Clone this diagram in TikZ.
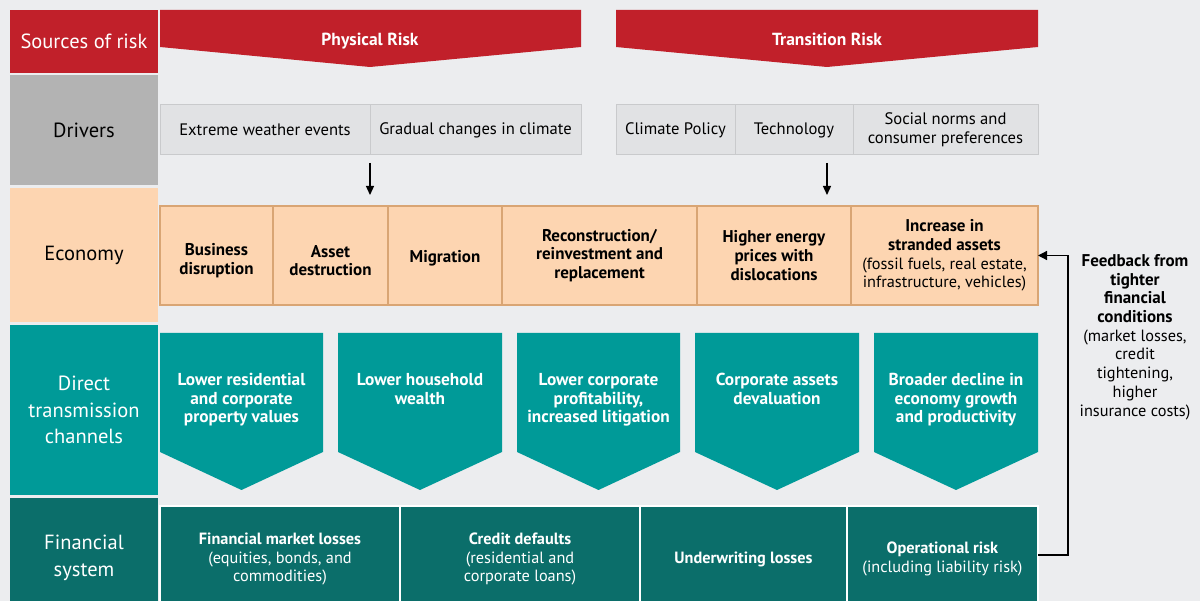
\documentclass[tikz,border=0pt]{standalone}
\usepackage{fontspec}
\setmainfont{PT Sans}
\usetikzlibrary{arrows.meta}
\definecolor{bg}{HTML}{ECEDEF}
\definecolor{riskred}{HTML}{C1202A}
\definecolor{drvgray}{HTML}{B3B3B3}
\definecolor{peach}{HTML}{FDD5B1}
\definecolor{peachline}{HTML}{D9A574}
\definecolor{chteal}{HTML}{009A98}
\definecolor{finteal}{HTML}{0B6E6A}
\definecolor{drvbox}{HTML}{E1E2E4}
\definecolor{drvline}{HTML}{C9CACC}
\newcommand{\smallreg}{\mdseries\fontsize{16.3}{18.7}\selectfont}
\tikzset{
  cell/.style={anchor=north west, inner sep=0pt, outer sep=0pt, align=center},
  leftcell/.style={cell, minimum width=148pt, font=\fontsize{20.5}{26.5}\selectfont},
  drvcell/.style={cell, fill=drvbox, draw=drvline, line width=1pt, minimum height=50pt, font=\fontsize{16.6}{19}\selectfont},
  ecocell/.style={cell, fill=peach, draw=peachline, line width=1.2pt, minimum height=99pt, font=\bfseries\fontsize{17}{18.7}\selectfont},
  ecotext/.style={align=center, inner sep=0pt, font=\bfseries\fontsize{17}{18.7}\selectfont},
  fincell/.style={cell, fill=finteal, draw=white, line width=1.3pt, minimum height=106pt, text=white, font=\fontsize{16.3}{18.8}\selectfont},
  chtext/.style={anchor=north, align=center, text=white, inner sep=0pt, font=\bfseries\fontsize{17.3}{18.7}\selectfont},
  bannertext/.style={anchor=base, text=white, inner sep=0pt, font=\bfseries\fontsize{17.5}{18}\selectfont},
  darr/.style={line width=1.3pt, -{Triangle[length=9pt,width=8pt]}},
  fbarr/.style={line width=1.3pt, -{Triangle[length=9pt,width=9pt]}}
}
\begin{document}
\begin{tikzpicture}[x=1pt,y=-1pt]
\useasboundingbox (0,0) rectangle (1200,601);
\clip (0,0) rectangle (1200,601);
\fill[bg] (0,0) rectangle (1200,601);
% left column
\node[leftcell, fill=riskred, text=white, minimum height=63pt] (src) at (10,10) {Sources of risk};
\node[leftcell, fill=drvgray, minimum height=110pt] (drv) at (10,75) {\raisebox{-2pt}{Drivers}};
\node[leftcell, fill=peach, minimum height=134pt] (eco) at (10,188) {\raisebox{-3pt}{Economy}};
\node[leftcell, fill=chteal, text=white, minimum height=170pt] (chn) at (10,325) {Direct\\transmission\\channels};
\node[leftcell, fill=finteal, text=white, minimum height=120pt] (fin) at (10,498) {Financial\\system};
% banners
\fill[riskred] (160,10) -- (581,10) -- (581,47) -- (370,67) -- (160,47) -- cycle;
\node[bannertext] (pr) at (370,45.5) {Physical Risk};
\fill[riskred] (616,10) -- (1038,10) -- (1038,47) -- (827,67) -- (616,47) -- cycle;
\node[bannertext] (tr) at (827,45.5) {Transition Risk};
% drivers
\node[drvcell, minimum width=210pt] (d1) at (160,105) {Extreme weather events};
\node[drvcell, minimum width=211pt] (d2) at (370,105) {Gradual changes in climate};
\node[drvcell, minimum width=119pt] (d3) at (616,105) {Climate Policy};
\node[drvcell, minimum width=118pt] (d4) at (735,105) {Technology};
\node[drvcell, minimum width=185pt] (d5) at (853,105) {Social norms and\\consumer preferences};
% economy
\node[ecocell, minimum width=113pt] (e1) at (160,206) {};
\node[ecotext] (e1t) at ([yshift=-5pt]e1.center) {Business\\disruption};
\node[ecocell, minimum width=115pt] (e2) at (273,206) {};
\node[ecotext] (e2t) at ([yshift=-5pt]e2.center) {Asset\\destruction};
\node[ecocell, minimum width=114pt] (e3) at (388,206) {};
\node[ecotext] (e3t) at ([yshift=-3pt]e3.center) {Migration};
\node[ecocell, minimum width=195pt] (e4) at (502,206) {Reconstruction/\\reinvestment and\\replacement};
\node[ecocell, minimum width=154pt] (e5) at (697,206) {Higher energy\\prices with\\dislocations};
\node[ecocell, minimum width=187pt] (e6) at (851,206) {Increase in\\stranded assets\\{\smallreg(fossil fuels, real estate,}\\{\smallreg infrastructure, vehicles)}};
% arrows drivers -> economy
\draw[darr] ([yshift=-8pt]d1.south east) -- ([yshift=11pt]d1.south east |- e1.north);
\draw[darr] ([yshift=-8pt]tr |- d4.south) -- ([yshift=11pt]tr |- e5.north);
% channels
\foreach \l/\r in {160/323,338/502,517/680,695/859,874/1038}{
  \fill[chteal] (\l,333) -- (\r,333) -- (\r,452) -- ({(\l+\r)/2},490) -- (\l,452) -- cycle;
}
\node[chtext] (c1) at (241.5,373) {Lower residential\\and corporate\\property values};
\node[chtext] (c2) at (420,373) {Lower household\\wealth};
\node[chtext] (c3) at (598.5,373) {Lower corporate\\profitability,\\increased litigation};
\node[chtext] (c4) at (777,373) {Corporate assets\\devaluation};
\node[chtext] (c5) at (956,373) {Broader decline in\\economy growth\\and productivity};
% financial system
\node[fincell, minimum width=240pt] (f1) at (160,506) {\textbf{Financial market losses}\\(equities, bonds, and\\commodities)};
\node[fincell, minimum width=240pt] (f2) at (400,506) {\textbf{Credit defaults}\\(residential and\\corporate loans)};
\node[fincell, minimum width=207pt] (f3) at (640,506) {\textbf{Underwriting losses}};
\node[fincell, minimum width=191pt] (f4) at (847,506) {\textbf{Operational risk}\\(including liability risk)};
% feedback
\coordinate (fbx) at (1068,555);
\draw[fbarr] (f4.east |- fbx) -- (fbx) |- (e6.east);
\node[align=center, inner sep=0pt, font=\fontsize{16.3}{18.7}\selectfont] (fb) at (1135,337) {\textbf{\fontsize{17}{18.7}\selectfont Feedback from}\\\textbf{\fontsize{17}{18.7}\selectfont tighter}\\\textbf{\fontsize{17}{18.7}\selectfont financial}\\\textbf{\fontsize{17}{18.7}\selectfont conditions}\\(market losses,\\credit\\tightening,\\higher\\insurance costs)};
\end{tikzpicture}
\end{document}
